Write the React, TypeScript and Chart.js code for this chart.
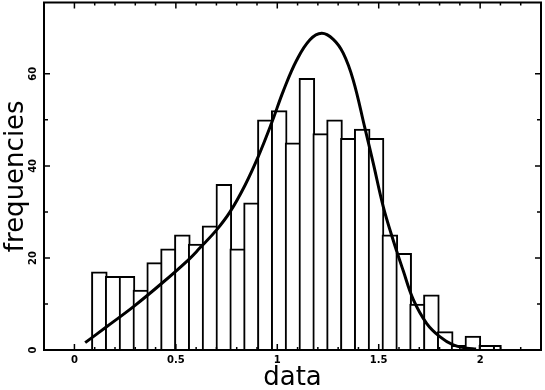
import React, { useEffect, useRef } from 'react';
import { Chart, registerables } from 'chart.js';

Chart.register(...registerables);

// Histogram bins (lower edge of first bin, width, upper end of data)
const binStart = 0.0887;
const binWidth = 0.0682;
const dataMax = 2.1;
// Counts of the 29 full-width bins
const counts = [17, 16, 16, 13, 19, 22, 25, 23, 27, 36, 22, 32, 50, 52, 45, 59, 47, 50, 46, 48, 46, 25, 21, 10, 12, 4, 1, 3, 1];
// Count of the final half-width bin (up to dataMax)
const lastCounts = [1];

// Fitted curve
const curveX = [0.053, 0.16, 0.296, 0.431, 0.562, 0.619, 0.701, 0.767, 0.841, 0.906, 0.972, 1.03, 1.096, 1.161, 1.219, 1.276, 1.325, 1.374, 1.432, 1.473, 1.522, 1.571, 1.621, 1.67, 1.736, 1.801, 1.867, 1.933, 1.98];
const curveY = [1.6, 5.1, 9.6, 14.5, 19.6, 22.2, 26.1, 30.0, 35.8, 42.0, 49.3, 56.3, 63.0, 67.4, 68.8, 67.5, 64.5, 58.7, 48.2, 40.6, 31.2, 23.9, 17.2, 11.0, 5.8, 2.9, 1.1, 0.4, 0.2];

const xTickLabels = ['0', '0.5', '1', '1.5', '2'];
const yTickLabels = ['0', '20', '40', '60'];
const xMin = -0.15;
const xMax = 2.3;
const yMin = 0;
const yMax = 75.5;

const isMult = (v: number, m: number) => Math.abs(v / m - Math.round(v / m)) < 1e-6;

const frameAndTicks = {
  id: 'frameAndTicks',
  afterDatasetsDraw(chart: any) {
    const { ctx, chartArea: a, scales } = chart;
    const x = scales.x;
    const y = scales.y;
    ctx.save();
    ctx.strokeStyle = '#000';
    ctx.lineWidth = 1.5;
    ctx.beginPath();
    for (const t of x.ticks) {
      const v = t.value;
      if (!isMult(v, 0.1)) continue;
      const px = x.getPixelForValue(v);
      if (px <= a.left + 1 || px >= a.right - 1) continue;
      const len = isMult(v, 0.5) ? 6 : 3;
      ctx.moveTo(px, a.bottom);
      ctx.lineTo(px, a.bottom - len);
      ctx.moveTo(px, a.top);
      ctx.lineTo(px, a.top + len);
    }
    for (const t of y.ticks) {
      const v = t.value;
      if (!isMult(v, 10)) continue;
      const py = y.getPixelForValue(v);
      if (py >= a.bottom - 1 || py <= a.top + 1) continue;
      const len = isMult(v, 20) ? 6 : 4;
      ctx.moveTo(a.left, py);
      ctx.lineTo(a.left + len, py);
      ctx.moveTo(a.right, py);
      ctx.lineTo(a.right - len, py);
    }
    ctx.stroke();
    ctx.lineWidth = 2;
    ctx.strokeRect(a.left, a.top, a.right - a.left, a.bottom - a.top);
    ctx.restore();
  },
};

export default function App() {
  const ref = useRef<HTMLCanvasElement>(null);
  useEffect(() => {
    const fullBars = counts.map((c, i) => ({ x: binStart + (i + 0.5) * binWidth, y: c }));
    const lastStart = binStart + counts.length * binWidth;
    const lastBars = lastCounts.map((c) => ({ x: (lastStart + dataMax) / 2, y: c }));
    const curve = curveX.map((v, i) => ({ x: v, y: curveY[i] }));
    const pxWidth = (w: number) => (ctx: any) => {
      const s = ctx.chart.scales.x;
      return Math.abs(s.getPixelForValue(w) - s.getPixelForValue(0)) + 2;
    };
    const chart = new Chart(ref.current!, {
      type: 'bar',
      data: {
        datasets: [
          {
            type: 'line',
            data: curve,
            borderColor: '#000',
            borderWidth: 3,
            pointRadius: 0,
            fill: false,
            tension: 0.4,
            order: 0,
          } as any,
          {
            type: 'bar',
            data: fullBars,
            backgroundColor: '#fff',
            borderColor: '#000',
            borderWidth: 2,
            grouped: false,
            barThickness: pxWidth(binWidth),
            order: 1,
          } as any,
          {
            type: 'bar',
            data: lastBars,
            backgroundColor: '#fff',
            borderColor: '#000',
            borderWidth: 2,
            grouped: false,
            barThickness: pxWidth(dataMax - lastStart),
            order: 2,
          } as any,
        ],
      },
      options: {
        responsive: false,
        animation: false,
        devicePixelRatio: 1,
        layout: { padding: { top: 2.5, right: 4, left: 0, bottom: 0 } },
        plugins: { legend: { display: false }, tooltip: { enabled: false } },
        scales: {
          x: {
            type: 'linear',
            min: xMin,
            max: xMax,
            offset: false,
            grid: { display: false, offset: false },
            border: { display: false },
            ticks: {
              stepSize: 0.1,
              autoSkip: false,
              maxRotation: 0,
              minRotation: 0,
              padding: -3.5,
              color: '#000',
              font: { family: 'DejaVu Sans', size: 10, weight: 'bold' },
              callback: (v: any) => {
                const s = String(Math.round(Number(v) * 10) / 10);
                return isMult(Number(v), 0.1) && xTickLabels.includes(s) ? s : '';
              },
            },
            title: {
              display: true,
              text: 'data',
              color: '#000',
              font: { family: 'DejaVu Sans', size: 26, lineHeight: 1 },
              padding: { top: 0, bottom: -1 },
            },
            afterFit: (s: any) => {
              s.height = 40;
            },
          },
          y: {
            type: 'linear',
            min: yMin,
            max: yMax,
            grid: { display: false },
            border: { display: false },
            ticks: {
              stepSize: 10,
              autoSkip: false,
              minRotation: 90,
              maxRotation: 90,
              crossAlign: 'center',
              padding: -4,
              color: '#000',
              font: { family: 'DejaVu Sans', size: 10, weight: 'bold' },
              callback: (v: any) => {
                const s = String(Math.round(Number(v)));
                return isMult(Number(v), 10) && yTickLabels.includes(s) ? s : '';
              },
            },
            title: {
              display: true,
              text: 'frequencies',
              color: '#000',
              font: { family: 'DejaVu Sans', size: 26, lineHeight: 1 },
              padding: { top: 3, bottom: 0 },
            },
            afterFit: (s: any) => {
              s.width = 44;
            },
          },
        },
      } as any,
      plugins: [frameAndTicks],
    });
    return () => chart.destroy();
  }, []);
  return (
    <div style={{ position: 'fixed', left: 0, top: 0, width: 545, height: 390, background: '#fff' }}>
      <canvas ref={ref} width={545} height={390} style={{ display: 'block', width: 545, height: 390 }} />
    </div>
  );
}
